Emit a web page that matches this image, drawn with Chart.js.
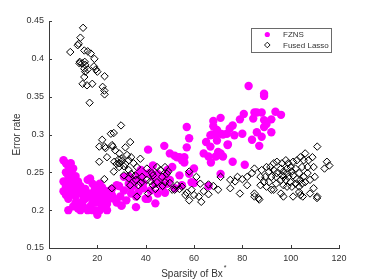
<!DOCTYPE html>
<html>
<head>
<meta charset="utf-8">
<script src="https://cdn.jsdelivr.net/npm/chart.js@4/dist/chart.umd.min.js"></script>
<style>
  html, body { margin: 0; padding: 0; background: #fff; }
  #wrap { width: 374px; height: 280px; }
</style>
</head>
<body>
<div id="wrap"><canvas id="c" width="374" height="280"></canvas></div>
<script>
/* ==================== DATA ==================== */
const seriesNames = ['FZNS', 'Fused Lasso'];
const xTicks = [0, 20, 40, 60, 80, 100, 120];
const yTicks = [0.15, 0.2, 0.25, 0.3, 0.35, 0.4, 0.45];
const xTitle = 'Sparsity of Bx';
const yTitle = 'Error rate';

// FZNS: [sparsity, error rate]
const fznsPoints = [
    [6,0.266],[7,0.262],[8,0.258],[9,0.262],[10,0.255],[6,0.238],[7,0.232],[8,0.245],[9,0.25],[10,0.24],
    [11,0.245],[12,0.238],[13,0.232],[6,0.225],[7,0.22],[8,0.215],[9,0.228],[10,0.222],[11,0.218],[12,0.225],
    [13,0.21],[14,0.22],[15,0.215],[8,0.2],[10,0.205],[12,0.202],[14,0.205],[16,0.2],[17,0.205],[18,0.21],
    [19,0.2],[20,0.194],[21,0.2],[22,0.205],[23,0.21],[24,0.208],[25,0.215],[26,0.22],[16,0.24],[17,0.242],
    [18,0.235],[19,0.228],[20,0.225],[21,0.22],[22,0.215],[23,0.222],[24,0.225],[17,0.222],[18,0.218],[19,0.212],
    [20,0.21],[15,0.228],[16,0.218],[14,0.212],[11,0.232],[9,0.238],[7,0.25],[28,0.21],[30,0.206],[27,0.215],
    [29,0.232],[26,0.228],[22,0.23],[21,0.235],[13,0.2],[11,0.21],[18,0.2],[20,0.215],[24,0.2],
    [41,0.28],[47.7,0.285],[43,0.259],[50,0.275],[52,0.272],[54,0.27],[55,0.266],[56,0.263],[57,0.31],[58,0.295],
    [57,0.283],[60,0.255],[54,0.246],[51,0.257],[49,0.253],[44,0.209],[36,0.218],[30,0.206],[36,0.204],[40,0.215],
    [41,0.215],[28,0.233],[31,0.226],[33,0.235],[34,0.222],[38,0.253],[38,0.24],[40,0.248],[43,0.244],[44,0.235],
    [45,0.248],[47,0.231],[48,0.223],[49,0.235],[32,0.213],[35,0.233],[37,0.224],[39,0.229],[42,0.226],[45,0.222],
    [52,0.229],[55,0.233],[58,0.248],[59,0.237],[60,0.236],[66,0.232],[31,0.244],[29.5,0.218],[33,0.245],[35,0.24],
    [37,0.248],[39,0.236],[34,0.23],[46,0.238],[48,0.245],[53,0.27],[56,0.27],[42,0.25],[50,0.24],
    [82.6,0.364],[89,0.354],[89,0.351],[93.7,0.33],[96,0.326],[85,0.329],[86,0.329],[88,0.329],[84.5,0.321],[89,0.319],
    [90,0.314],[92,0.32],[80.6,0.327],[79,0.32],[89,0.31],[86,0.303],[92,0.303],[88,0.297],[84,0.293],[87,0.285],
    [80,0.301],[71,0.322],[68,0.318],[68,0.311],[76,0.312],[74.8,0.308],[73.6,0.301],[76.7,0.299],[71,0.301],[69,0.3],
    [66.8,0.299],[65,0.29],[69.5,0.292],[74,0.287],[66.8,0.284],[64,0.275],[71,0.275],[72,0.271],[69,0.271],[66,0.271],
    [67,0.263],[76,0.264],[70,0.277],[81,0.26],[71,0.248],[67.5,0.3],[69.5,0.306],[73.9,0.286],[70.2,0.273],[72,0.3]
];

// Fused Lasso: [sparsity, error rate]
const lassoPoints = [
    [8.8,0.409],[11.9,0.418],[12.3,0.42],[13,0.428],[14.1,0.441],[14.6,0.411],[16,0.41],[18.8,0.4],[12.7,0.396],[13.7,0.394],
    [14.8,0.396],[14.6,0.387],[18.6,0.39],[19.4,0.386],[14.6,0.376],[23,0.377],[13.9,0.367],[15.7,0.365],[17.9,0.367],[22.2,0.363],
    [22.9,0.358],[23,0.353],[16.8,0.342],[15,0.383],[16,0.386],[20,0.383],[17.3,0.407],[12.6,0.394],[15,0.392],
    [20.8,0.284],[22,0.293],[23,0.284],[24,0.27],[20.8,0.264],[22.9,0.241],[26,0.229],[25.6,0.301],[26.8,0.302],[26.4,0.284],
    [27.4,0.279],[28.8,0.267],[29.8,0.312],[30.2,0.265],[28,0.261],[26.8,0.251],[31.6,0.283],[33.6,0.29],[34,0.27],[33,0.266],
    [35,0.262],[31.6,0.261],[37.8,0.268],[33,0.253],[36.4,0.257],[35.7,0.246],[31,0.246],[33,0.242],[33.6,0.233],[36.4,0.218],
    [37,0.233],[38.5,0.244],[40.5,0.24],[40.5,0.255],[42.6,0.249],[43,0.246],[44.7,0.237],[44,0.228],[46,0.253],[46.8,0.244],
    [48,0.237],[48.8,0.248],[49.4,0.251],[50,0.236],[51,0.227],[53,0.233],[55,0.231],[56.4,0.22],[58,0.213],[58,0.251],
    [59,0.227],[60,0.22],[62,0.218],[63,0.211],[62.6,0.235],[61,0.244],[66,0.221],[70,0.227],[71,0.244],[75,0.24],
    [75,0.229],[77,0.238],[78,0.244],[79,0.222],[80,0.241],[82,0.233],[85,0.222],[85,0.218],[87,0.214],[84,0.249],
    [85,0.255],[82,0.244],[48,0.257],[52,0.227],[43,0.233],[44.7,0.257],[27,0.264],[29,0.257],[41,0.222],[23.4,0.282],
    [26.1,0.286],[29.1,0.275],[32.3,0.273],[30,0.268],[29,0.262],[31,0.258],[34,0.248],[36,0.24],[38,0.236],[42,0.238],
    [47,0.232],[54,0.228],[57,0.223],[64,0.225],[66,0.234],[68,0.232],
    [97,0.244],[111,0.284],[109.5,0.257],[115,0.264],[116,0.259],[114,0.255],[111,0.218],[109.5,0.229],[108,0.222],[105,0.218],
    [104,0.22],[103.5,0.224],[101,0.218],[97,0.218],[96,0.222],[93,0.227],[92,0.227],[90,0.231],[89,0.237],[87.5,0.233],
    [89.5,0.244],[91,0.251],[91.6,0.257],[93,0.262],[94.3,0.264],[96,0.255],[97,0.251],[98.5,0.255],[100,0.257],[101,0.264],
    [102.6,0.266],[104,0.27],[105.4,0.266],[106,0.275],[107.4,0.266],[109,0.27],[94,0.244],[96,0.24],[98,0.24],[99,0.244],
    [100,0.237],[101,0.246],[102.6,0.241],[104,0.24],[105.4,0.244],[107,0.249],[108,0.24],[110,0.244],[97,0.233],[98.5,0.231],
    [100.5,0.231],[102,0.235],[103.5,0.231],[104.7,0.235],[106,0.237],[94,0.235],[92,0.244],[93,0.253],[94.3,0.249],[98.5,0.249],
    [96.4,0.246],[100.5,0.251],[102,0.255],[103.5,0.249],[104.7,0.257],[107,0.257],[88,0.253],[87.5,0.244],[91,0.237],[99,0.262],
    [98,0.266],[96.4,0.262],[90,0.257],[86.7,0.216],[110.9,0.216]
];

const FONT = '"Liberation Sans", Arial, Helvetica, sans-serif';
const AXIS_COLOR = '#3a3a3a';
const TEXT_COLOR = '#333333';

/* ==================== PLUGINS ==================== */
// inward tick marks, axis titles and a boxed legend inside the plot (MATLAB style)
const decorations = {
    id: 'decorations',
    afterDraw(chart) {
        const ctx = chart.ctx;
        const area = chart.chartArea;
        const xs = chart.scales.x;
        const ys = chart.scales.y;
        ctx.save();
        ctx.strokeStyle = AXIS_COLOR;
        ctx.lineWidth = 1;
        ctx.beginPath();
        xTicks.forEach((v) => {
            const px = Math.round(xs.getPixelForValue(v)) + 0.5;
            ctx.moveTo(px, area.bottom);
            ctx.lineTo(px, area.bottom - 3);
        });
        yTicks.forEach((v) => {
            const py = Math.round(ys.getPixelForValue(v)) + 0.5;
            ctx.moveTo(area.left, py);
            ctx.lineTo(area.left + 3, py);
        });
        ctx.stroke();

        // axis titles
        ctx.fillStyle = TEXT_COLOR;
        ctx.font = '10px ' + FONT;
        ctx.textAlign = 'center';
        ctx.textBaseline = 'alphabetic';
        const cx = (area.left + area.right) / 2;
        const w = ctx.measureText(xTitle).width;
        ctx.fillText(xTitle, cx - 2, 276.5);
        ctx.font = '7px ' + FONT;
        ctx.textAlign = 'left';
        ctx.fillText('*', cx - 2 + w / 2 + 1, 270);

        ctx.font = '10px ' + FONT;
        ctx.textAlign = 'center';
        ctx.translate(20, (area.top + area.bottom) / 2);
        ctx.rotate(-Math.PI / 2);
        ctx.fillText(yTitle, 0, 0);
        ctx.setTransform(1, 0, 0, 1, 0, 0);

        // legend
        const lx = 251.5, ly = 28.5, lw = 80, lh = 24;
        ctx.fillStyle = '#fff';
        ctx.fillRect(lx, ly, lw, lh);
        ctx.strokeStyle = '#6a6a6a';
        ctx.strokeRect(lx, ly, lw, lh);
        ctx.fillStyle = '#ff00ff';
        ctx.beginPath();
        ctx.arc(267.3, 34.5, 2.6, 0, Math.PI * 2);
        ctx.fill();
        ctx.strokeStyle = '#000';
        ctx.lineWidth = 0.9;
        ctx.beginPath();
        ctx.moveTo(264.5, 45); ctx.lineTo(267.3, 42.2); ctx.lineTo(270.1, 45); ctx.lineTo(267.3, 47.8);
        ctx.closePath();
        ctx.stroke();
        ctx.fillStyle = TEXT_COLOR;
        ctx.font = '8px ' + FONT;
        ctx.textAlign = 'left';
        ctx.textBaseline = 'middle';
        ctx.fillText(seriesNames[0], 283, 34.8);
        ctx.fillText(seriesNames[1], 283, 45.3);
        ctx.restore();
    }
};

/* ==================== CHART ==================== */
const toXY = (pts) => pts.map((p) => ({ x: p[0], y: p[1] }));

new Chart(document.getElementById('c'), {
    type: 'scatter',
    data: {
        datasets: [
            {
                label: seriesNames[0],
                data: toXY(fznsPoints),
                pointStyle: 'circle',
                pointRadius: 4.2,
                pointBackgroundColor: '#ff00ff',
                pointBorderWidth: 0,
                order: 1,
            },
            {
                label: seriesNames[1],
                data: toXY(lassoPoints),
                pointStyle: 'rectRot',
                pointRadius: 3.7,
                pointBackgroundColor: 'rgba(0,0,0,0)',
                pointBorderColor: '#000',
                pointBorderWidth: 1,
                order: 0,
            },
        ],
    },
    options: {
        responsive: false,
        animation: false,
        events: [],
        layout: { padding: { top: 21, right: 35, left: 0, bottom: 0 } },
        plugins: { legend: { display: false }, tooltip: { enabled: false } },
        scales: {
            x: {
                type: 'linear',
                min: 0,
                max: 120,
                afterFit: (s) => { s.height = 32; },
                afterBuildTicks: (s) => { s.ticks = xTicks.map((v) => ({ value: v })); },
                grid: { display: false, drawTicks: false },
                border: { display: true, color: AXIS_COLOR, width: 1 },
                ticks: { color: TEXT_COLOR, font: { family: FONT, size: 9 }, padding: 5, maxRotation: 0,
                    callback: (v) => String(v) },
            },
            y: {
                type: 'linear',
                min: 0.15,
                max: 0.45,
                afterFit: (s) => { s.width = 49; },
                afterBuildTicks: (s) => { s.ticks = yTicks.map((v) => ({ value: v })); },
                grid: { display: false, drawTicks: false },
                border: { display: true, color: AXIS_COLOR, width: 1 },
                ticks: { color: TEXT_COLOR, font: { family: FONT, size: 9 }, padding: 5,
                    callback: (v) => String(Number(v.toFixed(2))) },
            },
        },
    },
    plugins: [decorations],
});
</script>
</body>
</html>
